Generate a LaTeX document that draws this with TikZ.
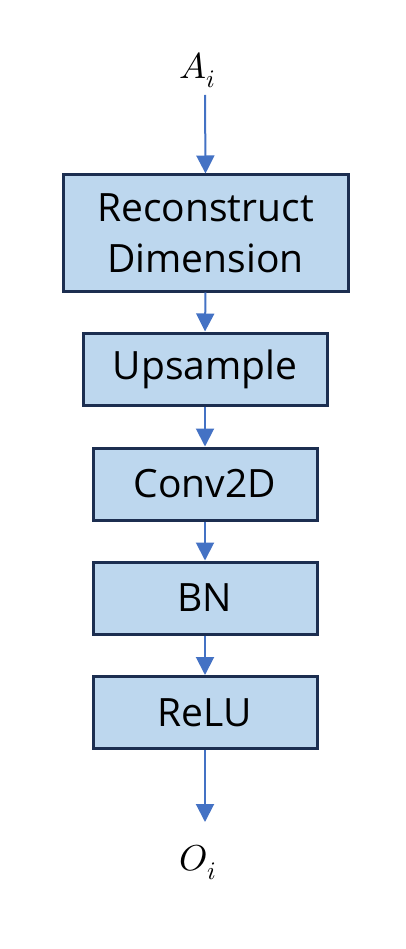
\documentclass[tikz,border=0pt]{standalone}
\usepackage{fontspec}
\usepackage{unicode-math}
\setmainfont{Open Sans}
\setmathfont{Latin Modern Math}
\usetikzlibrary{arrows.meta}
\definecolor{boxfill}{HTML}{BDD7EE}
\definecolor{boxline}{HTML}{1C2E50}
\definecolor{arr}{HTML}{4472C4}
\begin{document}
\begin{tikzpicture}[x=1pt,y=-1pt,
  blk/.style={draw=boxline,line width=3pt,fill=boxfill,inner sep=0pt,align=center,
    font=\fontsize{39}{51}\selectfont},
  lbl/.style={inner sep=0pt,font=\fontsize{36}{40}\selectfont},
  conn/.style={draw=arr,line width=2pt,-{Triangle[width=18pt,length=18pt]}}]
\useasboundingbox (0,0) rectangle (406,949);
\node[lbl] (ai) at (198,70) {$A_i$};
\node[blk,minimum width=285pt,minimum height=116pt] (rd) at (205.5,233) {Reconstruct\\Dimension};
\node[blk,minimum width=244pt,minimum height=72pt] (up) at (205,369) {Upsample};
\node[blk,minimum width=224pt,minimum height=72pt] (cv) at (205,484) {Conv2D};
\node[blk,minimum width=224pt,minimum height=72pt] (bn) at (205,598) {BN};
\node[blk,minimum width=224pt,minimum height=72pt] (rl) at (205,712.5) {ReLU};
\node[lbl] (oi) at (198,862) {$O_i$};
\coordinate (s0) at (205,95);
\coordinate (e0) at (205,822);
\draw[conn] (s0) -- (rd.north);
\draw[conn] (rd.south) -- (up.north);
\draw[conn] (up.south) -- (cv.north);
\draw[conn] (cv.south) -- (bn.north);
\draw[conn] (bn.south) -- (rl.north);
\draw[conn] (rl.south) -- (e0);
\end{tikzpicture}
\end{document}
